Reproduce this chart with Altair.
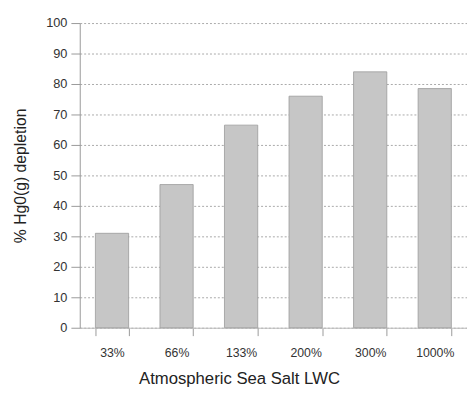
import altair as alt
import pandas as pd

categories = ["33%", "66%", "133%", "200%", "300%", "1000%"]
values = [31, 47, 66.5, 76, 84, 78.5]

df = pd.DataFrame({"lwc": categories, "dep": values})

FONT = "Liberation Sans"

chart = alt.Chart(df).mark_bar(
    color="#c6c6c6", stroke="#9a9a9a", strokeWidth=0.8
).encode(
    x=alt.X("lwc:N", sort=categories,
            scale=alt.Scale(paddingInner=0.485, paddingOuter=0.2425),
            axis=alt.Axis(title="Atmospheric Sea Salt LWC", labelAngle=0,
                          tickBand="extent", tickSize=8, tickColor="#999",
                          domainColor="#bbb", labelFontSize=12.5,
                          labelColor="#333", labelPadding=11,
                          titleFontSize=17, titleFontWeight="normal",
                          titleColor="#222", titlePadding=12,
                          titleX=162, titleAnchor="middle")),
    y=alt.Y("dep:Q", scale=alt.Scale(domain=[0, 100]),
            axis=alt.Axis(title="% Hg0(g) depletion", values=list(range(0, 101, 10)),
                          tickSize=9, tickColor="#999", domainColor="#999",
                          gridColor="#a8a8a8", gridDash=[2, 2], gridWidth=1,
                          labelFontSize=13, labelColor="#333", labelPadding=4,
                          titleFontSize=16, titleFontWeight="normal",
                          titleColor="#222", titlePadding=18)),
).properties(
    width=394, height=310,
    padding={"left": 73, "top": 12, "right": 0, "bottom": 60},
    autosize=alt.AutoSizeParams(type="none"),
).configure_view(stroke=None).configure_axis(
    labelFont=FONT, titleFont=FONT
)

chart.save("out.html", embed_options={"renderer": "svg", "actions": False})
